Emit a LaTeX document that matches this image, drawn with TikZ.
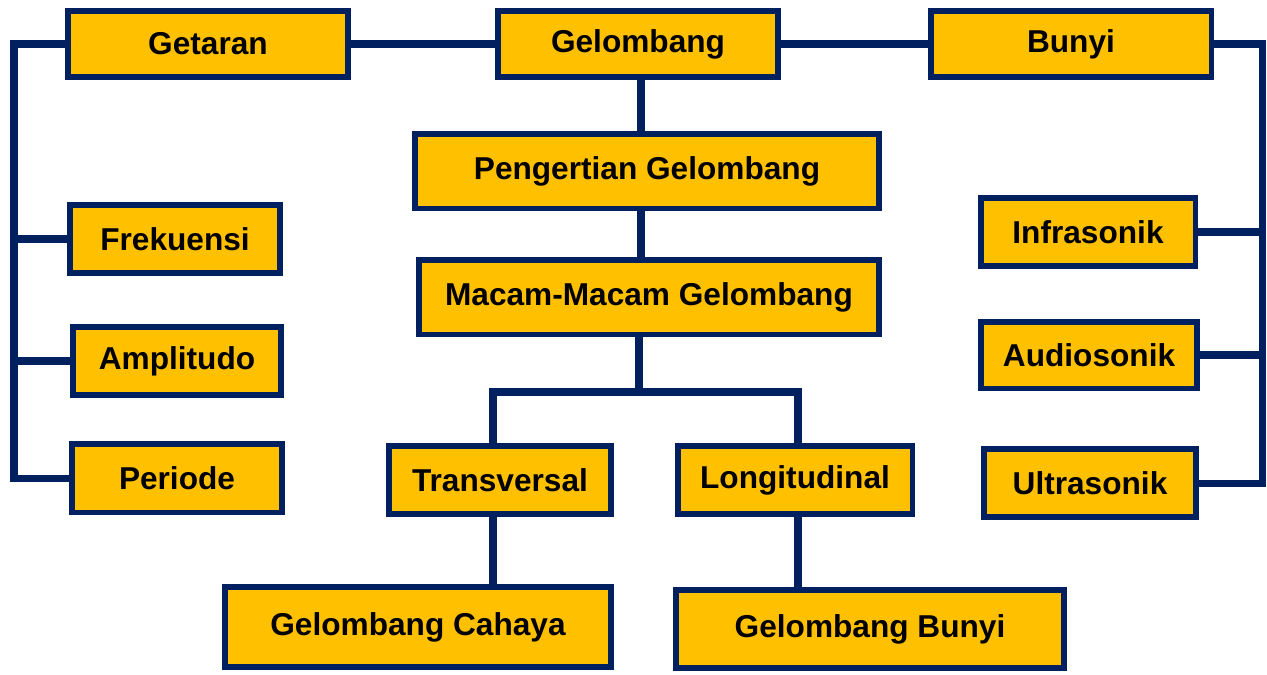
\documentclass[tikz,border=0pt]{standalone}
\usepackage{fontspec}
\setmainfont{Liberation Sans}
\usetikzlibrary{positioning}

\definecolor{navy}{HTML}{002060}
\definecolor{gold}{HTML}{FFC000}

\begin{document}
\begin{tikzpicture}[x=0.02cm, y=-0.02cm, every node/.style={rectangle, draw=navy, fill=gold, line width=3.4pt, text=black, font=\fontsize{18}{20}\selectfont\bfseries, inner sep=0pt}, every path/.style={line width=4pt, navy}]

    \useasboundingbox (0,0) rectangle (1267,674);

    % Nodes
    \node[minimum width=5.62cm, minimum height=1.32cm] (getaran) at (208,44) {Getaran};
    \node[minimum width=5.62cm, minimum height=1.32cm] (gelombang) at (638,44) {Gelombang};
    \node[minimum width=5.62cm, minimum height=1.32cm] (bunyi) at (1071,44) {Bunyi};

    \node[minimum width=9.3cm, minimum height=1.5cm] (pengertian) at (647,171) {Pengertian Gelombang};
    \node[minimum width=9.22cm, minimum height=1.5cm] (macam) at (649,297) {Macam-Macam Gelombang};

    \node[minimum width=4.22cm, minimum height=1.36cm] (frekuensi) at (175,239) {Frekuensi};
    \node[minimum width=4.16cm, minimum height=1.36cm] (amplitudo) at (177,361) {Amplitudo};
    \node[minimum width=4.2cm, minimum height=1.38cm] (periode) at (177,478) {Periode};

    \node[minimum width=4.3cm, minimum height=1.36cm] (infrasonik) at (1088,232) {Infrasonik};
    \node[minimum width=4.32cm, minimum height=1.34cm] (audiosonik) at (1089,355) {Audiosonik};
    \node[minimum width=4.24cm, minimum height=1.36cm] (ultrasonik) at (1090,483) {Ultrasonik};

    \node[minimum width=4.44cm, minimum height=1.36cm] (transversal) at (500,480) {Transversal};
    \node[minimum width=4.7cm, minimum height=1.36cm] (longitudinal) at (795,480) {Longitudinal};

    \node[minimum width=7.72cm, minimum height=1.6cm] (cahaya) at (418,627) {Gelombang Cahaya};
    \node[minimum width=7.76cm, minimum height=1.56cm] (gbunyi) at (870,629) {Gelombang Bunyi};

    % Bracket points
    \coordinate (lb) at (14,0);
    \coordinate (rb) at (1262,0);
    \coordinate (split) at (639,392);
    \coordinate (tj) at (493,392);
    \coordinate (lj) at (798,392);

    % Edges
    \draw (getaran) -- (gelombang);
    \draw (gelombang) -- (bunyi);
    \draw (gelombang.south -| 641,0) -- (pengertian.north -| 641,0);
    \draw (pengertian.south -| 641,0) -- (macam.north -| 641,0);

    \draw (getaran.west) -- (getaran.west -| lb) -- (periode.west -| lb) -- (periode.west);
    \draw (frekuensi.west -| lb) -- (frekuensi.west);
    \draw (amplitudo.west -| lb) -- (amplitudo.west);

    \draw (bunyi.east) -- (bunyi.east -| rb) -- (ultrasonik.east -| rb) -- (ultrasonik.east);
    \draw (infrasonik.east -| rb) -- (infrasonik.east);
    \draw (audiosonik.east -| rb) -- (audiosonik.east);

    \draw (macam.south -| split) -- (split);
    \draw (transversal.north -| tj) -- (tj) -- (lj) -- (longitudinal.north -| lj);
    \draw (transversal.south -| tj) -- (cahaya.north -| tj);
    \draw (longitudinal.south -| lj) -- (gbunyi.north -| lj);

\end{tikzpicture}
\end{document}
